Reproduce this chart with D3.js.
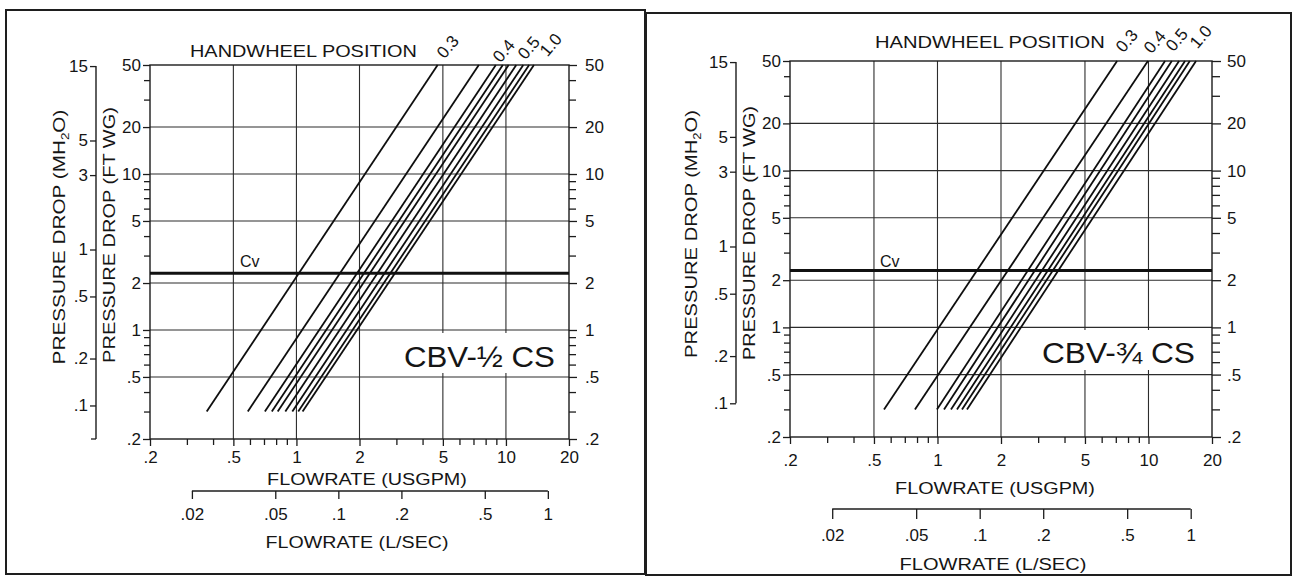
<!DOCTYPE html>
<html>
<head>
<meta charset="utf-8">
<script src="https://cdn.jsdelivr.net/npm/d3@7"></script>
<style>
  html, body { margin: 0; padding: 0; background: #fff; }
  svg { display: block; }
  text { font-family: "Liberation Sans", Arial, Helvetica, sans-serif; fill: #151515; }
</style>
</head>
<body>
<svg id="chart" width="1293" height="577"></svg>
<script>
// ---------------- DATA ----------------
const flowTickValues = [0.2, 0.5, 1, 2, 5, 10, 20];          // USGPM
const flowMinorValues = [0.3, 0.4, 0.6, 0.7, 0.8, 0.9, 3, 4, 6, 7, 8, 9];
const flowGridValues = [0.5, 1, 2, 5, 10];
const dropTickValues = [0.2, 0.5, 1, 2, 5, 10, 20, 50];      // FT WG
const dropMinorValues = [0.3, 0.4, 0.6, 0.7, 0.8, 0.9, 3, 4, 6, 7, 8, 9, 30, 40];
const dropGridValues = [0.5, 1, 2, 5, 10, 20];
const meterTickValues = [15, 5, 3, 1, 0.5, 0.2, 0.1];        // M H2O
const litreTickValues = [0.02, 0.05, 0.1, 0.2, 0.5, 1];      // L/SEC
const cvDrop = 2.31;                 // ft WG (1 psi) – Cv reference line
const lineDropRange = [0.3, 50];     // each handwheel line runs between these drops
const handwheelLabels = ["0.3", "0.4", "0.5", "1.0"];

// CBV-1/2 CS : flow (USGPM) at bottom (0.3 ft) and top (50 ft) of each handwheel line
const halfFlowLow  = [0.373, 0.586, 0.707, 0.763, 0.814, 0.885, 0.956, 1.02, 1.07];
const halfFlowHigh = [4.72, 7.42, 8.95, 9.66, 10.3, 11.2, 12.1, 12.9, 13.6];
// CBV-3/4 CS
const threeQFlowLow  = [0.558, 0.782, 0.994, 1.074, 1.159, 1.237, 1.307, 1.38];
const threeQFlowHigh = [7.10, 9.94, 11.98, 12.9, 13.96, 14.9, 15.7, 16.8];

const FT_PER_M = 1 / 0.3048;
const GPM_PER_LS = 1 / 0.0630902;

// ---------------- LAYOUT ----------------
const panels = [
  {
    name: "CBV-\u00BD CS", low: halfFlowLow, high: halfFlowHigh,
    border: [6, 10, 645, 574],
    x0: 150, x1: 569, yTop: 65, yBot: 439,
    mAxisX: 96, mAxisEnd: null,
    lsAxisY: 491, lsTick: 8, lsPad: 9,
    xPad: 5, rightTick: 8, rightPad: 8,
    hw: {x: 190, y: 57, w: 227},
    hwLabels: [[448, 47], [504, 51], [529, 48], [551, 45]],
    usgpm: {x: 367, y: 485, w: 200},
    lsec: {x: 357, y: 548, w: 183},
    mTitle: {x: 65, y: 237, w: 255},
    fTitle: {x: 115, y: 235, w: 256},
    cbv: {x: 404, y: 367, w: 151, box: [398, 333, 566, 373]},
    cv: {x: 240, y: 267}
  },
  {
    name: "CBV-\u00BE CS", low: threeQFlowLow, high: threeQFlowHigh,
    border: [646, 13, 1291, 575],
    x0: 790, x1: 1212, yTop: 61, yBot: 437,
    mAxisX: 736, mAxisEnd: 0.1,
    lsAxisY: 509, lsTick: 10, lsPad: 10,
    xPad: 10, rightTick: 9, rightPad: 6,
    hw: {x: 875, y: 48, w: 230},
    hwLabels: [[1127, 41], [1155, 42], [1177, 40], [1201, 37]],
    usgpm: {x: 995, y: 494, w: 200},
    lsec: {x: 993, y: 570, w: 187},
    mTitle: {x: 697, y: 234, w: 248},
    fTitle: {x: 755, y: 233, w: 254},
    cbv: {x: 1042, y: 363, w: 153, box: [1036, 330, 1205, 370]},
    cv: {x: 880, y: 267}
  }
];

const svg = d3.select("#chart");
const fmt = d => String(d).replace(/^0\./, ".");

function fitText(sel, x, y, rotate, width) {
  let sx = 1;
  if (width) {
    const w = sel.node().getComputedTextLength();
    if (w > 0) sx = width / w;
  }
  sel.attr("transform", `translate(${x},${y}) rotate(${rotate}) scale(${sx},1)`);
  return sel;
}

panels.forEach(p => {
  const g = svg.append("g");
  // panel border
  const [bx0, by0, bx1, by1] = p.border;
  g.append("rect").attr("x", bx0).attr("y", by0).attr("width", bx1 - bx0).attr("height", by1 - by0)
    .attr("fill", "none").attr("stroke", "#1e1e1e").attr("stroke-width", 2);

  const x = d3.scaleLog().domain([0.2, 20]).range([p.x0, p.x1]);
  const y = d3.scaleLog().domain([0.2, 50]).range([p.yBot, p.yTop]);
  const yM = d3.scaleLog().domain([0.2 / FT_PER_M, 50 / FT_PER_M]).range([p.yBot, p.yTop]);
  const xL = d3.scaleLog().domain([0.2 / GPM_PER_LS, 20 / GPM_PER_LS]).range([p.x0, p.x1]);

  const gridColor = "#2c2c2c";
  // grid
  g.append("g").selectAll("line").data(dropGridValues).join("line")
    .attr("x1", p.x0).attr("x2", p.x1).attr("y1", d => y(d)).attr("y2", d => y(d))
    .attr("stroke", gridColor).attr("stroke-width", 1.1);
  g.append("g").selectAll("line").data(flowGridValues).join("line")
    .attr("y1", p.yTop).attr("y2", p.yBot).attr("x1", d => x(d)).attr("x2", d => x(d))
    .attr("stroke", gridColor).attr("stroke-width", 1.1);

  // label box (white, interrupts vertical grid)
  const [cx0, cy0, cx1, cy1] = p.cbv.box;
  g.append("rect").attr("x", cx0).attr("y", cy0).attr("width", cx1 - cx0).attr("height", cy1 - cy0)
    .attr("fill", "#fff");
  g.append("g").selectAll("line").data(dropGridValues.filter(d => y(d) > cy0 && y(d) < cy1)).join("line")
    .attr("x1", p.x0).attr("x2", p.x1).attr("y1", d => y(d)).attr("y2", d => y(d))
    .attr("stroke", gridColor).attr("stroke-width", 1.1);

  // frame
  g.append("rect").attr("x", p.x0).attr("y", p.yTop).attr("width", p.x1 - p.x0).attr("height", p.yBot - p.yTop)
    .attr("fill", "none").attr("stroke", "#1c1c1c").attr("stroke-width", 1.4);

  // Cv line
  g.append("line").attr("x1", p.x0).attr("x2", p.x1).attr("y1", y(cvDrop)).attr("y2", y(cvDrop))
    .attr("stroke", "#111").attr("stroke-width", 3);
  g.append("text").attr("x", p.cv.x).attr("y", p.cv.y).attr("font-size", 16).text("Cv");

  // handwheel lines
  const line = d3.line().x(d => x(d[0])).y(d => y(d[1]));
  g.append("g").selectAll("path").data(p.low.map((lo, i) => [[lo, lineDropRange[0]], [p.high[i], lineDropRange[1]]]))
    .join("path").attr("d", line).attr("fill", "none").attr("stroke", "#0e0e0e").attr("stroke-width", 1.8);

  // axes
  const styleAxis = (ax, size) => {
    ax.selectAll(".domain").remove();
    ax.selectAll(".tick line").attr("stroke", "#1c1c1c").attr("stroke-width", 1.3);
    ax.selectAll("text").attr("font-size", size).attr("fill", "#151515")
      .style("font-family", '"Liberation Sans", Arial, Helvetica, sans-serif');
  };
  // left FT WG
  let ax = g.append("g").attr("transform", `translate(${p.x0},0)`)
    .call(d3.axisLeft(y).tickValues(dropTickValues).tickFormat(fmt).tickSize(7).tickPadding(2));
  styleAxis(ax, 17);
  ax = g.append("g").attr("transform", `translate(${p.x0},0)`)
    .call(d3.axisLeft(y).tickValues(dropMinorValues).tickFormat("").tickSize(6));
  styleAxis(ax, 17);
  // right FT WG
  ax = g.append("g").attr("transform", `translate(${p.x1},0)`)
    .call(d3.axisRight(y).tickValues(dropTickValues).tickFormat(fmt).tickSize(p.rightTick).tickPadding(p.rightPad));
  styleAxis(ax, 17);
  ax = g.append("g").attr("transform", `translate(${p.x1},0)`)
    .call(d3.axisRight(y).tickValues(dropMinorValues).tickFormat("").tickSize(p.rightTick - 1));
  styleAxis(ax, 17);
  // bottom USGPM
  ax = g.append("g").attr("transform", `translate(0,${p.yBot})`)
    .call(d3.axisBottom(x).tickValues(flowTickValues).tickFormat(fmt).tickSize(7).tickPadding(p.xPad));
  styleAxis(ax, 17);
  ax = g.append("g").attr("transform", `translate(0,${p.yBot})`)
    .call(d3.axisBottom(x).tickValues(flowMinorValues).tickFormat("").tickSize(6));
  styleAxis(ax, 17);

  // M H2O axis
  const mBottom = p.mAxisEnd === null ? p.yBot : yM(p.mAxisEnd);
  g.append("line").attr("x1", p.mAxisX).attr("x2", p.mAxisX).attr("y1", yM(meterTickValues[0])).attr("y2", mBottom)
    .attr("stroke", "#1c1c1c").attr("stroke-width", 1.4);
  if (p.mAxisEnd === null) {
    g.append("line").attr("x1", p.mAxisX - 5).attr("x2", p.mAxisX).attr("y1", mBottom).attr("y2", mBottom)
      .attr("stroke", "#1c1c1c").attr("stroke-width", 1.3);
  }
  ax = g.append("g").attr("transform", `translate(${p.mAxisX},0)`)
    .call(d3.axisLeft(yM).tickValues(meterTickValues).tickFormat(fmt).tickSize(6).tickPadding(2));
  styleAxis(ax, 17);

  // L/SEC axis
  g.append("line").attr("x1", xL(litreTickValues[0])).attr("x2", xL(litreTickValues[litreTickValues.length - 1]))
    .attr("y1", p.lsAxisY).attr("y2", p.lsAxisY).attr("stroke", "#1c1c1c").attr("stroke-width", 1.4);
  ax = g.append("g").attr("transform", `translate(0,${p.lsAxisY})`)
    .call(d3.axisBottom(xL).tickValues(litreTickValues).tickFormat(fmt).tickSize(p.lsTick).tickPadding(p.lsPad));
  styleAxis(ax, 17);

  // titles
  fitText(g.append("text").attr("font-size", 17).attr("text-anchor", "start").text("HANDWHEEL POSITION"),
    p.hw.x, p.hw.y, 0, p.hw.w);
  handwheelLabels.forEach((t, i) => {
    g.append("text").attr("font-size", 17).attr("text-anchor", "middle").attr("dominant-baseline", "central")
      .attr("transform", `translate(${p.hwLabels[i][0]},${p.hwLabels[i][1]}) rotate(-50)`).text(t);
  });
  fitText(g.append("text").attr("font-size", 17).attr("text-anchor", "middle").text("FLOWRATE (USGPM)"),
    p.usgpm.x, p.usgpm.y, 0, p.usgpm.w);
  fitText(g.append("text").attr("font-size", 17).attr("text-anchor", "middle").text("FLOWRATE (L/SEC)"),
    p.lsec.x, p.lsec.y, 0, p.lsec.w);
  const mt = g.append("text").attr("font-size", 17).attr("text-anchor", "middle");
  mt.append("tspan").text("PRESSURE DROP (MH");
  mt.append("tspan").attr("font-size", 11).attr("dy", 4).text("2");
  mt.append("tspan").attr("dy", -4).text("O)");
  fitText(mt, p.mTitle.x, p.mTitle.y, -90, p.mTitle.w);
  fitText(g.append("text").attr("font-size", 17).attr("text-anchor", "middle").text("PRESSURE DROP (FT WG)"),
    p.fTitle.x, p.fTitle.y, -90, p.fTitle.w);
  fitText(g.append("text").attr("font-size", 30).attr("text-anchor", "start").text(p.name),
    p.cbv.x, p.cbv.y, 0, p.cbv.w);
});
</script>
</body>
</html>
